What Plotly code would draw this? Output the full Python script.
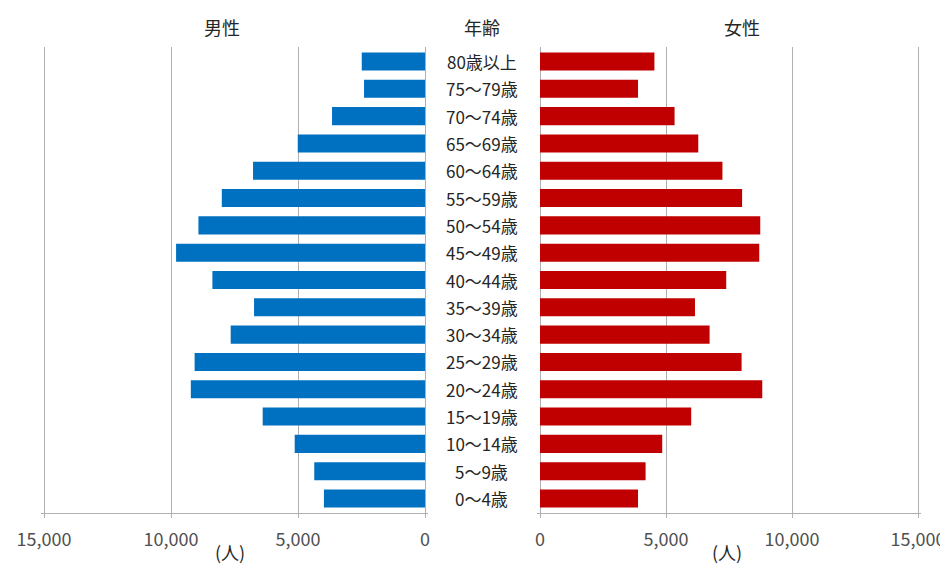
import plotly.graph_objects as go

age_groups = ["0～4歳", "5～9歳", "10～14歳", "15～19歳", "20～24歳", "25～29歳",
              "30～34歳", "35～39歳", "40～44歳", "45～49歳", "50～54歳", "55～59歳",
              "60～64歳", "65～69歳", "70～74歳", "75～79歳", "80歳以上"]
male = [3980, 4360, 5130, 6390, 9220, 9070, 7650, 6730, 8370, 9800, 8920, 8000,
        6770, 5010, 3660, 2400, 2490]
female = [3890, 4190, 4850, 6000, 8820, 8000, 6730, 6150, 7390, 8700, 8740, 8020,
          7240, 6280, 5340, 3890, 4540]
tick_vals = [0, 5000, 10000, 15000]
tick_text = ["0", "5,000", "10,000", "15,000"]
header_male = "男性"
header_age = "年齢"
header_female = "女性"
unit = "(人)"

OFF = 8  # page body margin: the figure starts 8px right/down in the window
W, H = 948 - OFF, 566 - OFF
# plot area in window pixels
X0, X1, Y0, Y1 = 41, 921, 47, 513
ML, MR, MT, MB = X0 - OFF, (W + OFF) - X1, Y0 - OFF, (H + OFF) - Y1
PW = X1 - X0
PH = Y1 - Y0
FONT = "Noto Sans CJK JP, Noto Sans, sans-serif"
TXT = "#404040"
GRID = "#b0b0b0"
PAD = 3  # px of extra range at each end so edge gridlines are drawn


def px(x):
    return (x - X0) / PW


def py(y):
    return (Y1 - y) / PH


# left panel: 15000 at x=44, 0 at x=425 ; right panel: 0 at 540, 15000 at 918
l_per = 15000 / (425 - 44)
r_per = 15000 / (918 - 540)

fig = go.Figure()
fig.add_trace(go.Bar(y=age_groups, x=male, orientation="h", xaxis="x", yaxis="y",
                     marker=dict(color="#0070c0", line=dict(width=0)), showlegend=False))
fig.add_trace(go.Bar(y=age_groups, x=female, orientation="h", xaxis="x2", yaxis="y",
                     marker=dict(color="#c00000", line=dict(width=0)), showlegend=False))

axis_common = dict(
    tickvals=tick_vals, ticktext=tick_text, showgrid=True, gridcolor=GRID, gridwidth=1,
    zeroline=False, showline=True, linecolor=GRID, linewidth=1,
    ticks="outside", ticklen=4, tickcolor=GRID, ticklabelstandoff=6,
    tickfont=dict(family=FONT, size=18, color="#505050"), fixedrange=True,
    automargin=False,
)

fig.update_layout(
    width=W, height=H,
    margin=dict(l=ML, r=MR, t=MT, b=MB, autoexpand=False),
    paper_bgcolor="white", plot_bgcolor="white",
    bargap=0.34,
    font=dict(family=FONT, color=TXT),
    xaxis=dict(domain=[px(44 - PAD), px(425 + PAD)],
               range=[15000 + PAD * l_per, -PAD * l_per], anchor="y", **axis_common),
    xaxis2=dict(domain=[px(540 - PAD), px(918 + PAD)],
                range=[-PAD * r_per, 15000 + PAD * r_per], anchor="y", **axis_common),
    yaxis=dict(domain=[0, 1], categoryorder="array", categoryarray=age_groups,
               showticklabels=False, showgrid=False, zeroline=False, showline=False,
               ticks="", fixedrange=True, automargin=False),
)

annotations = []
for a in age_groups:
    annotations.append(dict(x=px(482), xref="paper", y=a, yref="y", text=a,
                            showarrow=False, xanchor="center", yanchor="middle",
                            font=dict(family=FONT, size=17, color="#262626")))
for txt, x in [(header_male, 222), (header_age, 482), (header_female, 742)]:
    annotations.append(dict(x=px(x), xref="paper", y=py(27), yref="paper", text=txt,
                            showarrow=False, xanchor="center", yanchor="middle",
                            font=dict(family=FONT, size=18, color="#262626")))
for x in [230, 727]:
    annotations.append(dict(x=px(x), xref="paper", y=py(567), yref="paper", text=unit,
                            showarrow=False, xanchor="center", yanchor="bottom",
                            font=dict(family=FONT, size=18, color="#262626")))
fig.update_layout(annotations=annotations)

fig.write_html("out.html")
